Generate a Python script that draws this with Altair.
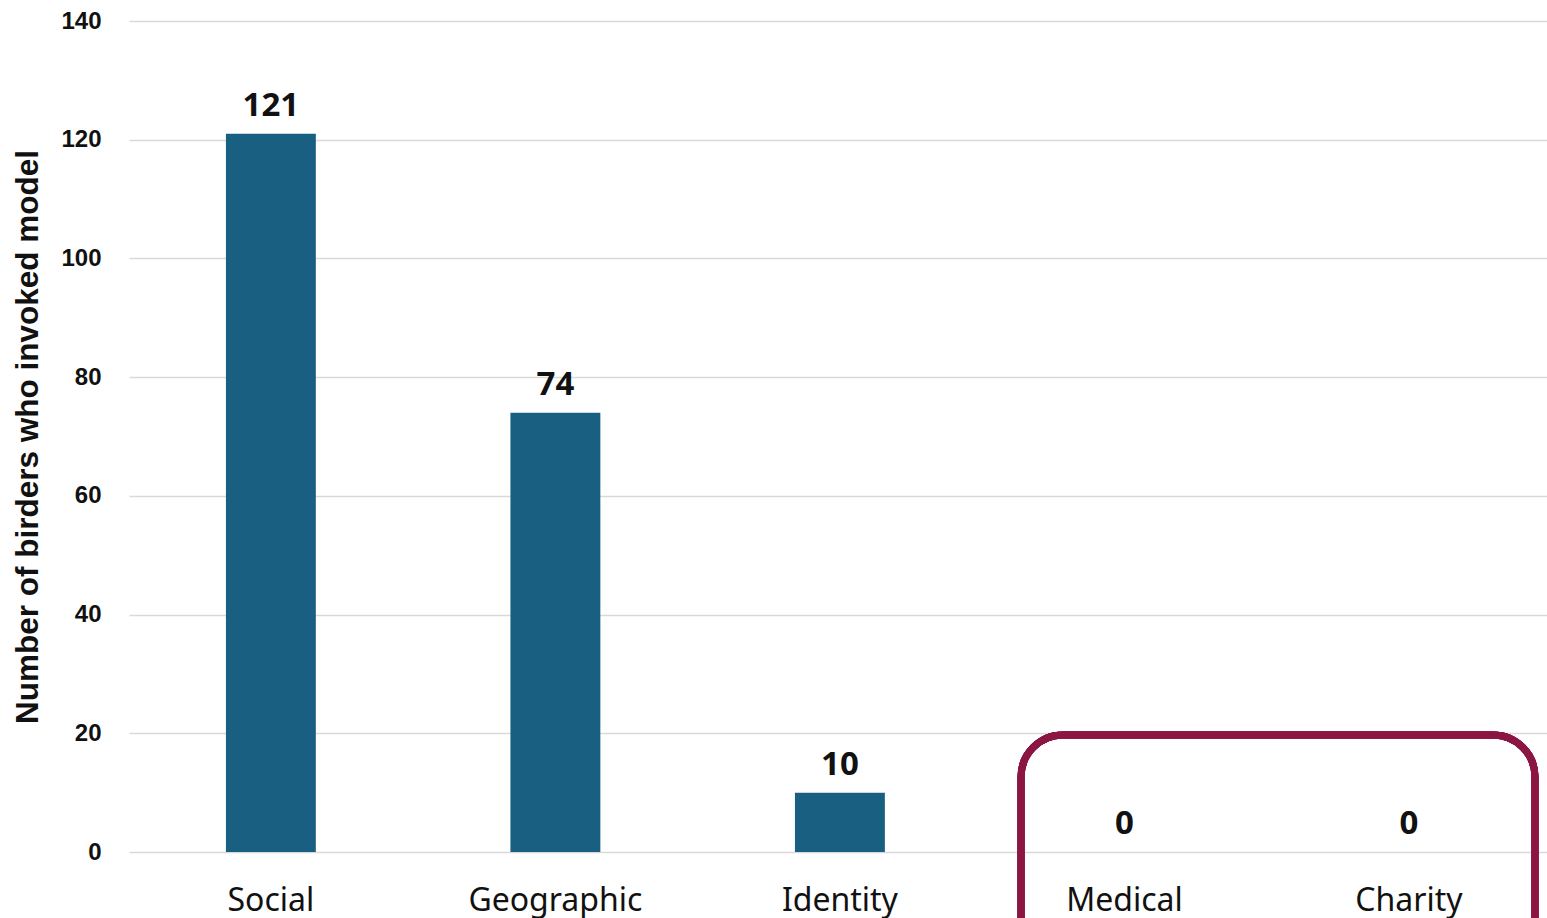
import altair as alt
import pandas as pd

# Categories of the model invoked and how many birders invoked each one
categories = ["Social", "Geographic", "Identity", "Medical", "Charity"]
birders = [121, 74, 10, 0, 0]

df = pd.DataFrame({"category": categories, "birders": birders})

BAR_COLOR = "#185f82"
FRAME_COLOR = "#8b1543"

x_enc = alt.X(
    "category:N",
    sort=categories,
    scale=alt.Scale(paddingInner=0.684, paddingOuter=0.334, align=0.51),
    axis=alt.Axis(
        title=None,
        domain=False,
        ticks=False,
        labelAngle=0,
        labelFont="Noto Sans",
        labelFontSize=32,
        labelColor="#111111",
        labelBaseline="alphabetic",
        labelPadding=58,
    ),
)

y_enc = alt.Y(
    "birders:Q",
    scale=alt.Scale(domain=[0, 140], nice=False),
    axis=alt.Axis(
        title="Number of birders who invoked model",
        titleFont="Liberation Sans",
        titleFontSize=31.5,
        titleFontWeight="bold",
        titleColor="#111111",
        titlePadding=16,
        values=[0, 20, 40, 60, 80, 100, 120, 140],
        domain=False,
        ticks=False,
        labelFont="Liberation Sans",
        labelFontSize=24,
        labelFontWeight="bold",
        labelColor="#111111",
        labelPadding=28,
        gridColor="#d9d9d9",
        gridWidth=1.5,
    ),
)

base = alt.Chart(df)

bars = base.mark_bar(color=BAR_COLOR).encode(x=x_enc, y=y_enc)

labels = base.mark_text(
    font="Noto Sans",
    fontSize=33,
    fontWeight="bold",
    color="#111111",
    baseline="alphabetic",
    dy=-18,
).encode(x=alt.X("category:N", sort=categories), y="birders:Q", text="birders:Q")

# Rounded frame highlighting the categories nobody invoked
frame = base.mark_rect(
    fill=None,
    fillOpacity=0,
    stroke=FRAME_COLOR,
    strokeWidth=7,
    cornerRadius=42,
).encode(
    x=alt.value(892),
    x2=alt.value(1406),
    y=alt.value(714),
    y2=alt.value(980),
)

chart = (
    alt.layer(bars, labels, frame)
    .properties(
        width=1418,
        height=831,
        autosize=alt.AutoSizeParams(type="none"),
        padding={"left": 129, "top": 21, "right": 0, "bottom": 66},
        background="white",
    )
    .configure_view(stroke=None)
)

chart.save("out.html", embed_options={"renderer": "svg", "actions": False})
